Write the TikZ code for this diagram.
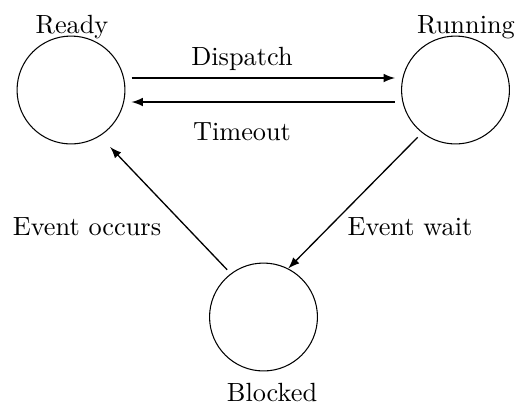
\documentclass[tikz,border=0pt]{standalone}
\usetikzlibrary{arrows}
\begin{document}
\begin{tikzpicture}[x=0.38pt,y=-0.38pt,
  state/.style={circle,draw,line width=0.4pt,minimum size=41pt,inner sep=0pt},
  lbl/.style={anchor=base,inner sep=0pt},
  conn/.style={-latex,line width=0.5pt}]
\useasboundingbox (0,0) rectangle (520,404);
\node[state] (ready) at (71,90) {};
\node[state] (running) at (455.5,90) {};
\node[state] (blocked) at (263.5,317) {};
\node[lbl] (lready) at (72,33) {Ready};
\node[lbl] (lrunning) at (466,33) {Running};
\node[lbl] (lblocked) at (272,401) {Blocked};
\draw[conn,shorten <=2.3pt,shorten >=2.3pt] ([yshift=4.56pt]ready.east) -- ([yshift=4.56pt]running.west);
\node[lbl] (ldisp) at (242,65) {Dispatch};
\draw[conn,shorten <=2.3pt,shorten >=2.3pt] ([yshift=-4.56pt]running.west) -- ([yshift=-4.56pt]ready.east);
\node[lbl] (ltimeout) at (242,140) {Timeout};
\draw[conn,shorten <=2pt,shorten >=5.7pt] (blocked.127) -- (ready.-58.6);
\node[lbl] (loccurs) at (87,235) {Event occurs};
\draw[conn,shorten <=2.3pt] (running.-128) -- (blocked.63);
\node[lbl] (lwait) at (410,235) {Event wait};
\end{tikzpicture}
\end{document}
